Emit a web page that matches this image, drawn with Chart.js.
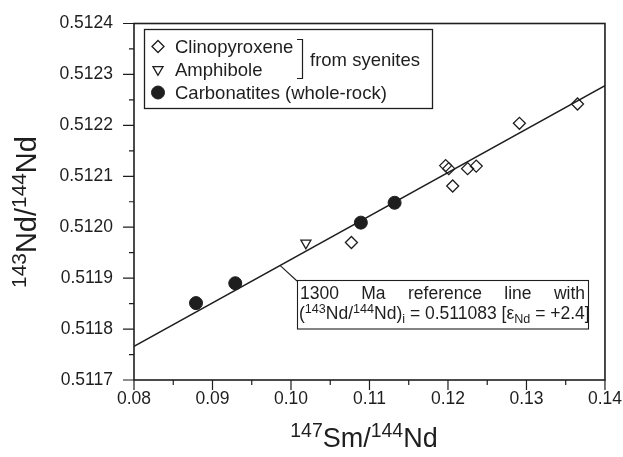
<!DOCTYPE html>
<html>
<head>
<meta charset="utf-8">
<style>
  html, body { margin: 0; padding: 0; background: #fff; }
  #wrap { width: 623px; height: 457px; }
</style>
</head>
<body>
<div id="wrap"><canvas id="chart" width="623" height="457"></canvas></div>
<script src="https://cdn.jsdelivr.net/npm/chart.js@4.4.0/dist/chart.umd.min.js"></script>
<script>
  // tick labels (major ticks); minor ticks fall half way between
  const xTickLabels = ['0.08', '0.09', '0.10', '0.11', '0.12', '0.13', '0.14'];
  const yTickLabels = ['0.5117', '0.5118', '0.5119', '0.5120', '0.5121', '0.5122', '0.5123', '0.5124'];

  // clinopyroxene from syenites
  const cpxX = [0.1077, 0.1197, 0.1201, 0.1206, 0.1225, 0.1236, 0.1291, 0.1365];
  const cpxY = [0.511970, 0.512121, 0.512115, 0.512081, 0.512115, 0.512120, 0.512204, 0.512242];

  // amphibole from syenites
  const amphX = [0.1019];
  const amphY = [0.511969];

  // carbonatites, whole-rock
  const carbX = [0.0879, 0.0929, 0.1089, 0.1132];
  const carbY = [0.511851, 0.511890, 0.512009, 0.512048];

  // 1300 Ma reference line, end points at the axis limits
  const refX = [0.08, 0.14];
  const refY = [0.511766, 0.512278];

  const ink = '#1e1e1e';
  const family = '"Liberation Sans", Arial, Helvetica, sans-serif';
  const fontOf = (size) => `${size}px ${family}`;
  const pts = (xs, ys) => xs.map((x, i) => ({ x, y: ys[i] }));
  const labelFor = (labels, value) => labels.find((l) => Math.abs(parseFloat(l) - value) < 1e-9) || '';

  function drawRich(ctx, parts, x, y, size, align) {
    const small = size * 0.72;
    let width = 0;
    parts.forEach(([t, k]) => {
      ctx.font = fontOf(k ? small : size);
      width += ctx.measureText(t).width;
    });
    let cx = align === 'center' ? x - width / 2 : x;
    ctx.textAlign = 'left';
    ctx.textBaseline = 'alphabetic';
    parts.forEach(([t, k]) => {
      ctx.font = fontOf(k ? small : size);
      const dy = k === 'sup' ? -size * 0.36 : k === 'sub' ? size * 0.2 : 0;
      ctx.fillText(t, cx, y + dy);
      cx += ctx.measureText(t).width;
    });
  }

  const decor = {
    id: 'decor',
    afterDraw(chart) {
      const { ctx, chartArea: a, scales: { x, y } } = chart;
      ctx.save();
      ctx.strokeStyle = ink;
      ctx.fillStyle = ink;

      // frame
      ctx.lineWidth = 1.6;
      ctx.strokeRect(a.left, a.top, a.right - a.left, a.bottom - a.top);

      // outward tick marks, long for labelled ticks
      ctx.lineWidth = 1.2;
      ctx.beginPath();
      x.ticks.forEach((t) => {
        const px = x.getPixelForValue(t.value);
        const len = labelFor(xTickLabels, t.value) ? 10 : 5;
        ctx.moveTo(px, a.bottom);
        ctx.lineTo(px, a.bottom + len);
      });
      y.ticks.forEach((t) => {
        const py = y.getPixelForValue(t.value);
        const len = labelFor(yTickLabels, t.value) ? 11 : 5;
        ctx.moveTo(a.left, py);
        ctx.lineTo(a.left - len, py);
      });
      ctx.stroke();

      // axis titles
      drawRich(ctx, [['147', 'sup'], ['Sm/', ''], ['144', 'sup'], ['Nd', '']], 364, 447, 27, 'center');
      ctx.save();
      ctx.translate(36, 212);
      ctx.rotate(-Math.PI / 2);
      drawRich(ctx, [['143', 'sup'], ['Nd/', ''], ['144', 'sup'], ['Nd', '']], 0, 0, 29, 'center');
      ctx.restore();

      // legend box
      ctx.lineWidth = 1.3;
      ctx.strokeRect(144.5, 29.5, 288, 79);
      const rows = [46.5, 69.5, 92.5];
      chart.data.datasets.slice(0, 3).forEach((ds, i) => {
        ctx.save();
        ctx.fillStyle = ds.backgroundColor;
        ctx.strokeStyle = ds.borderColor;
        ctx.lineWidth = ds.borderWidth;
        Chart.helpers.drawPoint(ctx, {
          pointStyle: ds.pointStyle,
          rotation: ds.pointRotation || 0,
          radius: ds.pointRadius,
          borderWidth: ds.borderWidth
        }, 158, rows[i]);
        ctx.restore();
        ctx.font = fontOf(18.5);
        ctx.textAlign = 'left';
        ctx.textBaseline = 'alphabetic';
        ctx.fillText(ds.label, 175, rows[i] + 6.6);
      });
      // bracket grouping the syenite minerals
      ctx.lineWidth = 1.2;
      ctx.beginPath();
      ctx.moveTo(297, 39.5);
      ctx.lineTo(302.5, 39.5);
      ctx.lineTo(302.5, 78.5);
      ctx.lineTo(297, 78.5);
      ctx.stroke();
      ctx.font = fontOf(18.5);
      ctx.fillText('from syenites', 310, 66);

      // reference line label with leader
      const lx = x.getPixelForValue(0.0986);
      const ly = y.getPixelForValue(0.511925);
      ctx.lineWidth = 1.1;
      ctx.beginPath();
      ctx.moveTo(lx, ly);
      ctx.lineTo(297, 281);
      ctx.stroke();
      ctx.fillStyle = '#fff';
      ctx.fillRect(297, 280.5, 291, 48.5);
      ctx.fillStyle = ink;
      ctx.strokeRect(297.5, 280.5, 291, 48.5);

      const words = ['1300', 'Ma', 'reference', 'line', 'with'];
      ctx.font = fontOf(17.5);
      const used = words.reduce((s, w) => s + ctx.measureText(w).width, 0);
      const gap = (585 - 300 - used) / (words.length - 1);
      let wx = 300;
      words.forEach((w) => {
        ctx.fillText(w, wx, 299);
        wx += ctx.measureText(w).width + gap;
      });
      drawRich(ctx, [['(', ''], ['143', 'sup'], ['Nd/', ''], ['144', 'sup'], ['Nd)', ''], ['i', 'sub'],
        [' = 0.511083 [\u03b5', ''], ['Nd', 'sub'], [' = +2.4]', '']], 299, 319, 17.5, 'left');
      ctx.restore();
    }
  };

  new Chart(document.getElementById('chart'), {
    type: 'scatter',
    data: {
      datasets: [
        {
          label: 'Clinopyroxene',
          data: pts(cpxX, cpxY),
          pointStyle: 'rectRot',
          pointRadius: 6,
          backgroundColor: 'rgba(0,0,0,0)',
          borderColor: ink,
          borderWidth: 1.3
        },
        {
          label: 'Amphibole',
          data: pts(amphX, amphY),
          pointStyle: 'triangle',
          pointRotation: 180,
          pointRadius: 5.8,
          backgroundColor: 'rgba(0,0,0,0)',
          borderColor: ink,
          borderWidth: 1.3
        },
        {
          label: 'Carbonatites (whole-rock)',
          data: pts(carbX, carbY),
          pointStyle: 'circle',
          pointRadius: 6.5,
          backgroundColor: ink,
          borderColor: ink,
          borderWidth: 1
        },
        {
          type: 'line',
          label: '1300 Ma reference line',
          data: pts(refX, refY),
          borderColor: ink,
          borderWidth: 1.5,
          pointRadius: 0,
          fill: false,
          tension: 0
        }
      ]
    },
    options: {
      responsive: false,
      animation: false,
      devicePixelRatio: 1,
      layout: { padding: { top: 20, right: 13, left: 0, bottom: 0 } },
      plugins: { legend: { display: false }, tooltip: { enabled: false } },
      scales: {
        x: {
          type: 'linear',
          min: parseFloat(xTickLabels[0]),
          max: parseFloat(xTickLabels[xTickLabels.length - 1]),
          afterFit: (s) => { s.height = 77; },
          grid: { display: false },
          border: { display: false },
          ticks: {
            stepSize: 0.005,
            autoSkip: false,
            maxRotation: 0,
            padding: 1,
            color: ink,
            font: { family, size: 17.5 },
            callback: (v) => labelFor(xTickLabels, v)
          }
        },
        y: {
          type: 'linear',
          min: parseFloat(yTickLabels[0]),
          max: parseFloat(yTickLabels[yTickLabels.length - 1]),
          afterFit: (s) => { s.width = 134; },
          grid: { display: false },
          border: { display: false },
          ticks: {
            stepSize: 0.00005,
            autoSkip: false,
            padding: 13,
            color: ink,
            font: { family, size: 17.5 },
            callback: (v) => labelFor(yTickLabels, v)
          }
        }
      }
    },
    plugins: [decor]
  });
</script>
</body>
</html>
